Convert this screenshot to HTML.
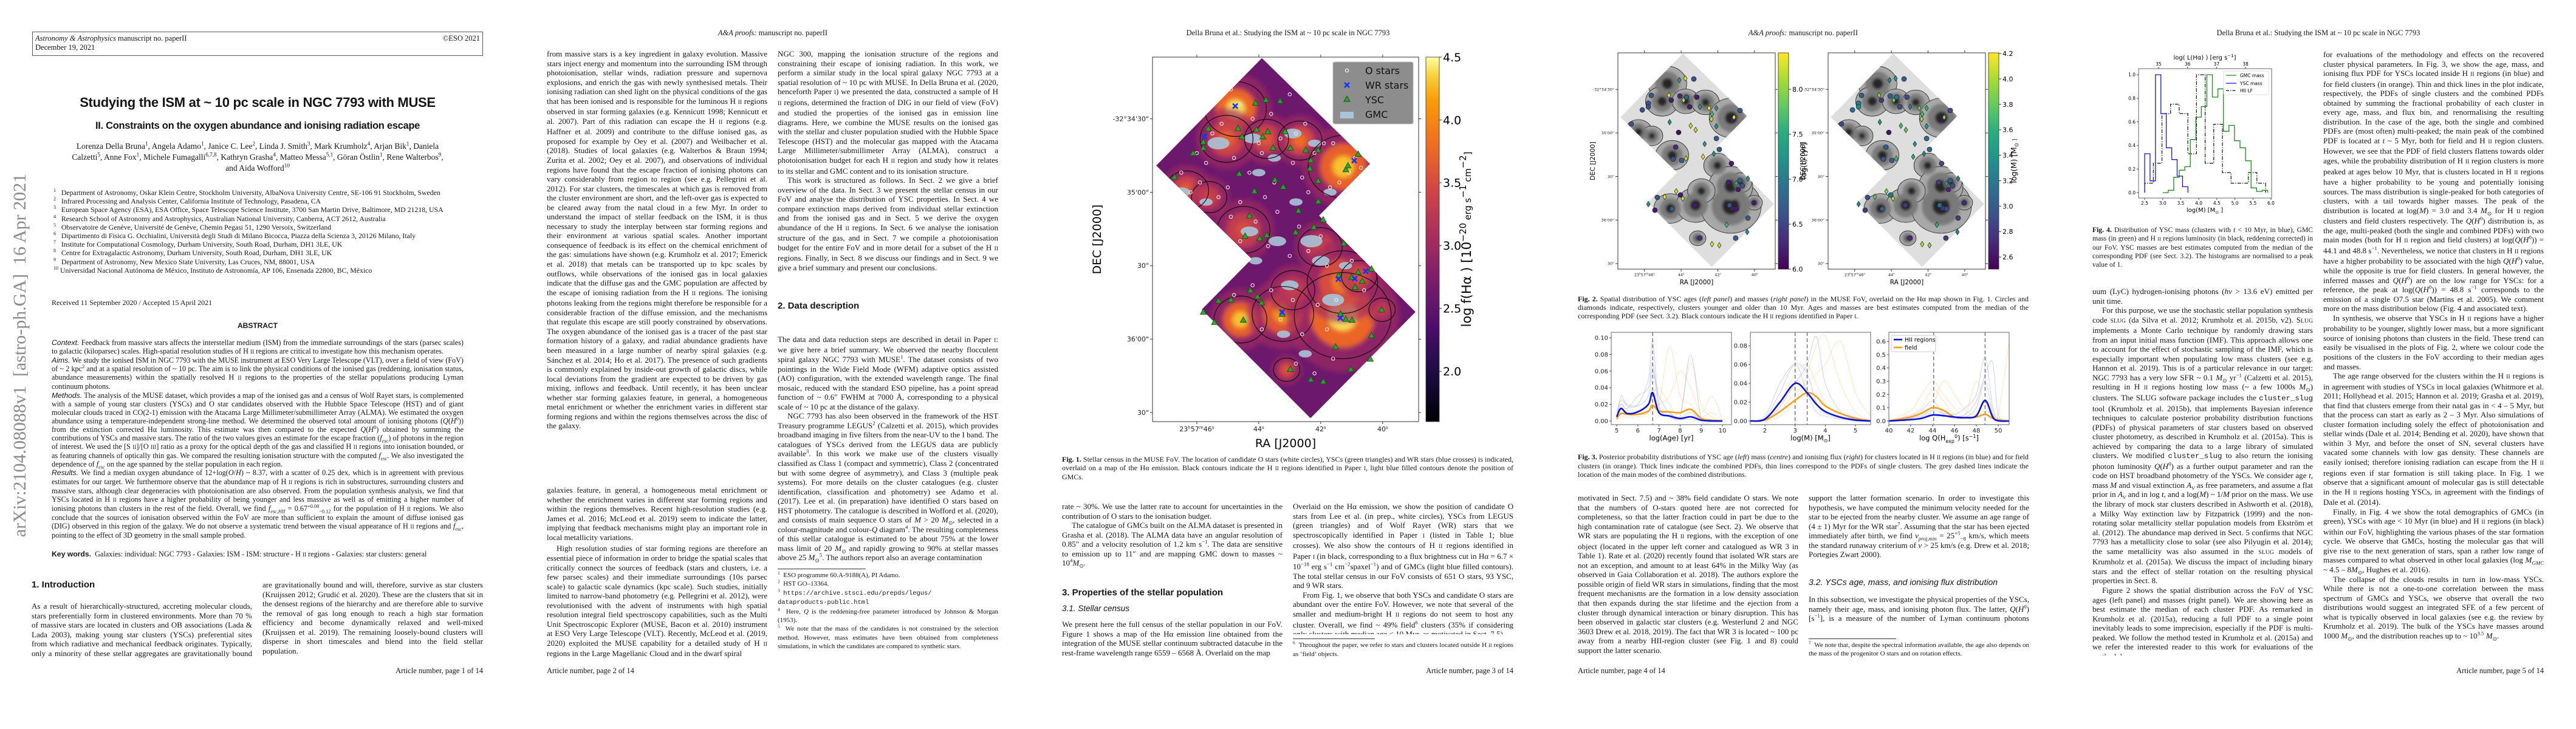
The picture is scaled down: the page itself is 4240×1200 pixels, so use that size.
<!DOCTYPE html>
<html><head><meta charset="utf-8">
<style>
body{margin:0;width:4240px;height:1200px;position:relative;background:#fff;overflow:hidden;font-family:"Liberation Serif",serif;color:#161616}
#charts{position:absolute;left:0;top:0}
.page{position:absolute;top:0;width:848px;height:1200px}
.hdr{position:absolute;left:0;width:848px;top:46px;text-align:center;font-size:12.5px;line-height:16px}
.col{position:absolute;width:363px;font-size:13px;line-height:15.55px;text-align:justify;overflow:hidden;hyphens:auto}
.col p{margin:0}
.col p+p{text-indent:16px}
.end{display:flex;flex-direction:column;justify-content:flex-end}
sup,sub{line-height:0;font-size:.68em}
.sec{position:absolute;font-family:"Liberation Sans",sans-serif;font-weight:bold;font-size:15px;line-height:18px}
.sub{position:absolute;font-family:"Liberation Sans",sans-serif;font-style:italic;font-size:13.5px;line-height:18px}
.foot{position:absolute;top:1096px;font-size:12.5px;line-height:16px}
.cap{position:absolute;font-size:12px;line-height:14.2px;text-align:justify}
.fn{position:absolute;width:363px;font-size:11px;line-height:14.4px;text-align:justify}
.rule{position:absolute;height:1px;background:#333}
.sc{font-size:.75em}
.mono{font-family:"Liberation Mono",monospace;font-size:.95em}
</style></head>
<body>
<svg id="charts" width="4240" height="1200" viewBox="0 0 4240 1200" xmlns="http://www.w3.org/2000/svg"></svg>

<!-- PAGE 1 -->
<div class="page" style="left:0">
  <div style="position:absolute;left:-292px;top:567px;width:650px;height:36px;transform:rotate(-90deg);transform-origin:center;font-size:30px;line-height:36px;color:#8a8a8a;white-space:nowrap;text-align:center">arXiv:2104.08088v1&nbsp; [astro-ph.GA]&nbsp; 16 Apr 2021</div>
  <div style="position:absolute;left:53px;top:52px;width:740px;height:38px;border:1px solid #555;font-size:12.5px;line-height:15px">
    <div style="position:absolute;left:4px;top:3px"><i>Astronomy &amp; Astrophysics</i> manuscript no. paperII<br>December 19, 2021</div>
    <div style="position:absolute;right:4px;top:3px">©ESO 2021</div>
  </div>
  <div style="position:absolute;left:0;width:848px;top:156px;text-align:center;font-family:'Liberation Sans',sans-serif;font-weight:bold;font-size:22px;letter-spacing:-0.3px">Studying the ISM at ~ 10 pc scale in NGC 7793 with MUSE</div>
  <div style="position:absolute;left:0;width:848px;top:198px;text-align:center;font-family:'Liberation Sans',sans-serif;font-weight:bold;font-size:16.5px;letter-spacing:-0.3px">II. Constraints on the oxygen abundance and ionising radiation escape</div>
  <div style="position:absolute;left:70px;width:708px;top:232px;text-align:center;font-size:13.5px;line-height:18px">Lorenza Della Bruna<sup>1</sup>, Angela Adamo<sup>1</sup>, Janice C. Lee<sup>2</sup>, Linda J. Smith<sup>3</sup>, Mark Krumholz<sup>4</sup>, Arjan Bik<sup>1</sup>, Daniela<br>Calzetti<sup>5</sup>, Anne Fox<sup>1</sup>, Michele Fumagalli<sup>6,7,8</sup>, Kathryn Grasha<sup>4</sup>, Matteo Messa<sup>5,1</sup>, Göran Östlin<sup>1</sup>, Rene Walterbos<sup>9</sup>,<br>and Aida Wofford<sup>10</sup></div>
  <div style="position:absolute;left:88px;width:680px;top:310px;font-size:11.8px;line-height:14.2px">
    <div style="padding-left:15px;text-indent:-15px"><sup>1</sup>&nbsp;&nbsp; Department of Astronomy, Oskar Klein Centre, Stockholm University, AlbaNova University Centre, SE-106 91 Stockholm, Sweden</div>
    <div style="padding-left:15px;text-indent:-15px"><sup>2</sup>&nbsp;&nbsp; Infrared Processing and Analysis Center, California Institute of Technology, Pasadena, CA</div>
    <div style="padding-left:15px;text-indent:-15px"><sup>3</sup>&nbsp;&nbsp; European Space Agency (ESA), ESA Office, Space Telescope Science Institute, 3700 San Martin Drive, Baltimore, MD 21218, USA</div>
    <div><sup>4</sup>&nbsp;&nbsp; Research School of Astronomy and Astrophysics, Australian National University, Canberra, ACT 2612, Australia</div>
    <div><sup>5</sup>&nbsp;&nbsp; Observatoire de Genève, Université de Genève, Chemin Pegasi 51, 1290 Versoix, Switzerland</div>
    <div><sup>6</sup>&nbsp;&nbsp; Dipartimento di Fisica G. Occhialini, Università degli Studi di Milano Bicocca, Piazza della Scienza 3, 20126 Milano, Italy</div>
    <div><sup>7</sup>&nbsp;&nbsp; Institute for Computational Cosmology, Durham University, South Road, Durham, DH1 3LE, UK</div>
    <div><sup>8</sup>&nbsp;&nbsp; Centre for Extragalactic Astronomy, Durham University, South Road, Durham, DH1 3LE, UK</div>
    <div><sup>9</sup>&nbsp;&nbsp; Department of Astronomy, New Mexico State University, Las Cruces, NM, 88001, USA</div>
    <div><sup>10</sup> Universidad Nacional Autónoma de México, Instituto de Astronomía, AP 106, Ensenada 22800, BC, México</div>
  </div>
  <div style="position:absolute;left:85px;top:491px;font-size:12px">Received 11 September 2020 / Accepted 15 April 2021</div>
  <div style="position:absolute;left:0;width:848px;top:529px;text-align:center;font-family:'Liberation Sans',sans-serif;font-weight:bold;font-size:12px">ABSTRACT</div>
  <div style="position:absolute;left:85px;width:678px;top:557px;font-size:12.2px;line-height:14.1px;text-align:justify;height:340px;overflow:hidden">
    <div><i style="font-family:'Liberation Sans'">Context.</i> Feedback from massive stars affects the interstellar medium (ISM) from the immediate surroundings of the stars (parsec scales) to galactic (kiloparsec) scales. High-spatial resolution studies of H <span class="sc">II</span> regions are critical to investigate how this mechanism operates.</div>
    <div><i style="font-family:'Liberation Sans'">Aims.</i> We study the ionised ISM in NGC 7793 with the MUSE instrument at ESO Very Large Telescope (VLT), over a field of view (FoV) of ~ 2 kpc<sup>2</sup> and at a spatial resolution of ~ 10 pc. The aim is to link the physical conditions of the ionised gas (reddening, ionisation status, abundance measurements) within the spatially resolved H <span class="sc">II</span> regions to the properties of the stellar populations producing Lyman continuum photons.</div>
    <div><i style="font-family:'Liberation Sans'">Methods.</i> The analysis of the MUSE dataset, which provides a map of the ionised gas and a census of Wolf Rayet stars, is complemented with a sample of young star clusters (YSCs) and O star candidates observed with the Hubble Space Telescope (HST) and of giant molecular clouds traced in CO(2-1) emission with the Atacama Large Millimeter/submillimeter Array (ALMA). We estimated the oxygen abundance using a temperature-independent strong-line method. We determined the observed total amount of ionising photons (<i>Q</i>(<i>H</i><sup>0</sup>)) from the extinction corrected Hα luminosity. This estimate was then compared to the expected <i>Q</i>(<i>H</i><sup>0</sup>) obtained by summing the contributions of YSCs and massive stars. The ratio of the two values gives an estimate for the escape fraction (<i>f<sub>esc</sub></i>) of photons in the region of interest. We used the [S <span class="sc">II</span>]/[O <span class="sc">III</span>] ratio as a proxy for the optical depth of the gas and classified H <span class="sc">II</span> regions into ionisation bounded, or as featuring channels of optically thin gas. We compared the resulting ionisation structure with the computed <i>f<sub>esc</sub></i>. We also investigated the dependence of <i>f<sub>esc</sub></i> on the age spanned by the stellar population in each region.</div>
    <div><i style="font-family:'Liberation Sans'">Results.</i> We find a median oxygen abundance of 12+log(<i>O</i>/<i>H</i>) ~ 8.37, with a scatter of 0.25 dex, which is in agreement with previous estimates for our target. We furthermore observe that the abundance map of H <span class="sc">II</span> regions is rich in substructures, surrounding clusters and massive stars, although clear degeneracies with photoionisation are also observed. From the population synthesis analysis, we find that YSCs located in H <span class="sc">II</span> regions have a higher probability of being younger and less massive as well as of emitting a higher number of ionising photons than clusters in the rest of the field. Overall, we find <i>f<sub>esc,HII</sub></i> = 0.67<sup>+0.08</sup><sub>−0.12</sub> for the population of H <span class="sc">II</span> regions. We also conclude that the sources of ionisation observed within the FoV are more than sufficient to explain the amount of diffuse ionised gas (DIG) observed in this region of the galaxy. We do not observe a systematic trend between the visual appearance of H <span class="sc">II</span> regions and <i>f<sub>esc</sub></i>, pointing to the effect of 3D geometry in the small sample probed.</div>
  </div>
  <div style="position:absolute;left:85px;top:905px;font-size:12.2px"><b style="font-family:'Liberation Sans'">Key words.</b>&nbsp; Galaxies: individual: NGC 7793 - Galaxies: ISM - ISM: structure - H <span class="sc">II</span> regions - Galaxies: star clusters: general</div>
  <div class="sec" style="left:52px;top:954px">1. Introduction</div>
  <div class="col" style="left:52px;top:990px;height:94px"><p>As a result of hierarchically-structured, accreting molecular clouds, stars preferentially form in clustered environments. More than 70 % of massive stars are located in clusters and OB associations (Lada &amp; Lada 2003), making young star clusters (YSCs) preferential sites from which radiative and mechanical feedback originates. Typically, only a minority of these stellar aggregates are gravitationally bound and will survive.</p></div>
  <div class="col" style="left:432px;top:955px;height:125px"><p>are gravitationally bound and will, therefore, survive as star clusters (Kruijssen 2012; Grudić et al. 2020). These are the clusters that sit in the densest regions of the hierarchy and are therefore able to survive the removal of gas long enough to reach a high star formation efficiency and become dynamically relaxed and well-mixed (Kruijssen et al. 2019). The remaining loosely-bound clusters will disperse in short timescales and blend into the field stellar population.</p></div>
  <div class="foot" style="right:53px">Article number, page 1 of 14</div>
</div>

<!-- PAGE 2 -->
<div class="page" style="left:848px">
  <div class="hdr"><i>A&amp;A proofs:</i> manuscript no. paperII</div>
  <div class="col" style="left:52px;top:81px;height:700px"><p>from massive stars is a key ingredient in galaxy evolution. Massive stars inject energy and momentum into the surrounding ISM through photoionisation, stellar winds, radiation pressure and supernova explosions, and enrich the gas with newly synthesised metals. Their ionising radiation can shed light on the physical conditions of the gas that has been ionised and is responsible for the luminous H <span class="sc">II</span> regions observed in star forming galaxies (e.g. Kennicutt 1998; Kennicutt et al. 2007). Part of this radiation can escape the H <span class="sc">II</span> regions (e.g. Haffner et al. 2009) and contribute to the diffuse ionised gas, as proposed for example by Oey et al. (2007) and Weilbacher et al. (2018). Studies of local galaxies (e.g. Walterbos &amp; Braun 1994; Zurita et al. 2002; Oey et al. 2007), and observations of individual regions have found that the escape fraction of ionising photons can vary considerably from region to region (see e.g. Pellegrini et al. 2012). For star clusters, the timescales at which gas is removed from the cluster environment are short, and the left-over gas is expected to be cleared away from the natal cloud in a few Myr. In order to understand the impact of stellar feedback on the ISM, it is thus necessary to study the interplay between star forming regions and their environment at various spatial scales. Another important consequence of feedback is its effect on the chemical enrichment of the gas: simulations have shown (e.g. Krumholz et al. 2017; Emerick et al. 2018) that metals can be transported up to kpc scales by outflows, while observations of the ionised gas in local galaxies indicate that the diffuse gas and the GMC population are affected by the escape of ionising radiation from the H <span class="sc">II</span> regions. The ionising photons leaking from the regions might therefore be responsible for a considerable fraction of the diffuse emission, and the mechanisms that regulate this escape are still poorly constrained by observations. The oxygen abundance of the ionised gas is a tracer of the past star formation history of a galaxy, and radial abundance gradients have been measured in a large number of nearby spiral galaxies (e.g. Sánchez et al. 2014; Ho et al. 2017). The presence of such gradients is commonly explained by inside-out growth of galactic discs, while local deviations from the gradient are expected to be driven by gas mixing, inflows and feedback. Until recently, it has been unclear whether star forming galaxies feature, in general, a homogeneous metal enrichment or whether the enrichment varies in different star forming regions and within the regions themselves across the disc of the galaxy.</p></div>
  <div class="col end" style="left:52px;top:781px;height:303px"><div>
    <p>galaxies feature, in general, a homogeneous metal enrichment or whether the enrichment varies in different star forming regions and within the regions themselves. Recent high-resolution studies (e.g. James et al. 2016; McLeod et al. 2019) seem to indicate the latter, implying that feedback mechanisms might play an important role in local metallicity variations.</p>
    <p style="margin-top:3px">High resolution studies of star forming regions are therefore an essential piece of information in order to bridge the spatial scales that critically connect the sources of feedback (stars and clusters, i.e. a few parsec scales) and their immediate surroundings (10s parsec scale) to galactic scale dynamics (kpc scale). Such studies, initially limited to narrow-band photometry (e.g. Pellegrini et al. 2012), were revolutionised with the advent of instruments with high spatial resolution integral field spectroscopy capabilities, such as the Multi Unit Spectroscopic Explorer (MUSE, Bacon et al. 2010) instrument at ESO Very Large Telescope (VLT). Recently, McLeod et al. (2019, 2020) exploited the MUSE capability for a detailed study of H <span class="sc">II</span> regions in the Large Magellanic Cloud and in the dwarf spiral</p></div></div>
  <div class="col" style="left:432px;top:81px;height:376px"><p>NGC 300, mapping the ionisation structure of the regions and constraining their escape of ionising radiation. In this work, we perform a similar study in the local spiral galaxy NGC 7793 at a spatial resolution of ~ 10 pc with MUSE. In Della Bruna et al. (2020, henceforth Paper <span class="sc">I</span>) we presented the data, constructed a sample of H <span class="sc">II</span> regions, determined the fraction of DIG in our field of view (FoV) and studied the properties of the ionised gas in emission line diagrams. Here, we combine the MUSE results on the ionised gas with the stellar and cluster population studied with the Hubble Space Telescope (HST) and the molecular gas mapped with the Atacama Large Millimeter/submillimeter Array (ALMA), construct a photoionisation budget for each H <span class="sc">II</span> region and study how it relates to its stellar and GMC content and to its ionisation structure.</p><p>This work is structured as follows. In Sect. 2 we give a brief overview of the data. In Sect. 3 we present the stellar census in our FoV and analyse the distribution of YSC properties. In Sect. 4 we compare extinction maps derived from individual stellar extinction and from the ionised gas and in Sect. 5 we derive the oxygen abundance of the H <span class="sc">II</span> regions. In Sect. 6 we analyse the ionisation structure of the gas, and in Sect. 7 we compile a photoionisation budget for the entire FoV and in more detail for a subset of the H <span class="sc">II</span> regions. Finally, in Sect. 8 we discuss our findings and in Sect. 9 we give a brief summary and present our conclusions.</p></div>
  <div class="sec" style="left:432px;top:495px">2. Data description</div>
  <div class="col end" style="left:432px;top:522px;height:404px"><div><p>The data and data reduction steps are described in detail in Paper <span class="sc">I</span>: we give here a brief summary. We observed the nearby flocculent spiral galaxy NGC 7793 with MUSE<sup>1</sup>. The dataset consists of two pointings in the Wide Field Mode (WFM) adaptive optics assisted (AO) configuration, with the extended wavelength range. The final mosaic, reduced with the standard ESO pipeline, has a point spread function of ~ 0.6″ FWHM at 7000 Å, corresponding to a physical scale of ~ 10 pc at the distance of the galaxy.</p><p>NGC 7793 has also been observed in the framework of the HST Treasury programme LEGUS<sup>2</sup> (Calzetti et al. 2015), which provides broadband imaging in five filters from the near-UV to the I band. The catalogues of YSCs derived from the LEGUS data are publicly available<sup>3</sup>. In this work we make use of the clusters visually classified as Class 1 (compact and symmetric), Class 2 (concentrated but with some degree of asymmetry), and Class 3 (multiple peak systems). For more details on the cluster catalogues (e.g. cluster identification, classification and photometry) see Adamo et al. (2017). Lee et al. (in preparation) have identified O stars based on HST photometry. The catalogue is described in Wofford et al. (2020), and consists of main sequence O stars of <i>M</i> &gt; 20 <i>M</i><sub>⊙</sub>, selected in a colour-magnitude and colour-<i>Q</i> diagram<sup>4</sup>. The resulting completeness of this stellar catalogue is estimated to be about 75% at the lower mass limit of 20 <i>M</i><sub>⊙</sub> and rapidly growing to 90% at stellar masses above 25 <i>M</i><sub>⊙</sub><sup>5</sup>. The authors report also an average contamination</p></div></div>
  <div class="rule" style="left:432px;top:936px;width:145px"></div>
  <div class="fn" style="left:432px;top:940px">
    <div><sup>1</sup>&nbsp; ESO programme 60.A-9188(A), PI Adamo.</div>
    <div><sup>2</sup>&nbsp; HST GO–13364.</div>
    <div><sup>3</sup>&nbsp; <span class="mono">https://archive.stsci.edu/prepds/legus/<br>dataproducts-public.html</span></div>
    <div><sup>4</sup>&nbsp; Here, <i>Q</i> is the reddening-free parameter introduced by Johnson &amp; Morgan (1953).</div>
    <div><sup>5</sup>&nbsp; We note that the mass of the candidates is not constrained by the selection method. However, mass estimates have been obtained from completeness simulations, in which the candidates are compared to synthetic stars.</div>
  </div>
  <div class="foot" style="left:52px">Article number, page 2 of 14</div>
</div>

<!-- PAGE 3 -->
<div class="page" style="left:1696px">
  <div class="hdr">Della Bruna et al.: Studying the ISM at ~ 10 pc scale in NGC 7793</div>
  <div class="cap" style="left:52px;width:743px;top:749px"><b>Fig. 1.</b> Stellar census in the MUSE FoV. The location of candidate O stars (white circles), YSCs (green triangles) and WR stars (blue crosses) is indicated, overlaid on a map of the Hα emission. Black contours indicate the H <span class="sc">II</span> regions identified in Paper <span class="sc">I</span>, light blue filled contours denote the position of GMCs.</div>
  <div class="col" style="left:52px;top:826px;height:109px"><p>rate ~ 30%. We use the latter rate to account for uncertainties in the contribution of O stars to the ionisation budget.</p><p>The catalogue of GMCs built on the ALMA dataset is presented in Grasha et al. (2018). The ALMA data have an angular resolution of 0.85″ and a velocity resolution of 1.2 km s<sup>−1</sup>. The data are sensitive to emission up to 11″ and are mapping GMC down to masses ~ 10<sup>4</sup><i>M</i><sub>⊙</sub>.</p></div>
  <div class="sec" style="left:52px;top:967px">3. Properties of the stellar population</div>
  <div class="sub" style="left:52px;top:993px">3.1. Stellar census</div>
  <div class="col" style="left:52px;top:1020px;height:63px"><p>We present here the full census of the stellar population in our FoV. Figure 1 shows a map of the Hα emission line obtained from the integration of the MUSE stellar continuum subtracted datacube in the rest-frame wavelength range 6559 – 6568 Å. Overlaid on the map</p></div>
  <div class="col" style="left:432px;top:826px;height:218px"><p>Overlaid on the Hα emission, we show the position of candidate O stars from Lee et al. (in prep., white circles), YSCs from LEGUS (green triangles) and of Wolf Rayet (WR) stars that we spectroscopically identified in Paper <span class="sc">I</span> (listed in Table 1; blue crosses). We also show the contours of H <span class="sc">II</span> regions identified in Paper <span class="sc">I</span> (in black, corresponding to a flux brightness cut in Hα = 6.7 × 10<sup>−18</sup> erg s<sup>−1</sup> cm<sup>−2</sup>spaxel<sup>−1</sup>) and of GMCs (light blue filled contours). The total stellar census in our FoV consists of 651 O stars, 93 YSC, and 9 WR stars.</p><p>From Fig. 1, we observe that both YSCs and candidate O stars are abundant over the entire FoV. However, we note that several of the smaller and medium-bright H <span class="sc">II</span> regions do not seem to host any cluster. Overall, we find ~ 49% field<sup>6</sup> clusters (35% if considering only clusters with median age &lt; 10 Myr, as motivated in Sect. 7.5)</p></div>
  <div class="rule" style="left:432px;top:1051px;width:135px"></div>
  <div class="fn" style="left:432px;top:1055px"><sup>6</sup>&nbsp; Throughout the paper, we refer to stars and clusters located outside H <span class="sc">II</span> regions as ‘field’ objects.</div>
  <div class="foot" style="right:53px">Article number, page 3 of 14</div>
</div>

<!-- PAGE 4 -->
<div class="page" style="left:2544px">
  <div class="hdr"><i>A&amp;A proofs:</i> manuscript no. paperII</div>
  <div class="cap" style="left:53px;width:742px;top:485px"><b>Fig. 2.</b> Spatial distribution of YSC ages (<i>left panel</i>) and masses (<i>right panel</i>) in the MUSE FoV, overlaid on the Hα map shown in Fig. 1. Circles and diamonds indicate, respectively, clusters younger and older than 10 Myr. Ages and masses are best estimates computed from the median of the corresponding PDF (see Sect. 3.2). Black contours indicate the H <span class="sc">II</span> regions identified in Paper <span class="sc">I</span>.</div>
  <div class="cap" style="left:53px;width:742px;top:745px"><b>Fig. 3.</b> Posterior probability distributions of YSC age (<i>left</i>) mass (<i>centre</i>) and ionising flux (<i>right</i>) for clusters located in H <span class="sc">II</span> regions (in blue) and for field clusters (in orange). Thick lines indicate the combined PDFs, thin lines correspond to the PDFs of single clusters. The grey dashed lines indicate the location of the main modes of the combined distributions.</div>
  <div class="col" style="left:53px;top:812px;height:266px"><p>motivated in Sect. 7.5) and ~ 38% field candidate O stars. We note that the numbers of O-stars quoted here are not corrected for completeness, so that the latter fraction could in part be due to the high contamination rate of catalogue (see Sect. 2). We observe that WR stars are populating the H <span class="sc">II</span> regions, with the exception of one object (located in the upper left corner and catalogued as WR 3 in Table 1). Rate et al. (2020) recently found that isolated WR stars are not an exception, and amount to at least 64% in the Milky Way (as observed in Gaia Collaboration et al. 2018). The authors explore the possible origin of field WR stars in simulations, finding that the most frequent mechanisms are the formation in a low density association that then expands during the star lifetime and the ejection from a cluster through dynamical interaction or binary disruption. This has been observed in galactic star clusters (e.g. Westerlund 2 and NGC 3603 Drew et al. 2018, 2019). The fact that WR 3 is located ~ 100 pc away from a nearby HII-region cluster (see Fig. 1 and 8) could support the latter scenario.</p></div>
  <div class="col" style="left:433px;top:812px;height:110px"><p>support the latter formation scenario. In order to investigate this hypothesis, we have computed the minimum velocity needed for the star to be ejected from the nearby cluster. We assume an age range of (4 ± 1) Myr for the WR star<sup>7</sup>. Assuming that the star has been ejected immediately after birth, we find <i>v<sub>proj,min</sub></i> = 25<sup>+5</sup><sub>−8</sub> km/s, which meets the standard runaway criterium of <i>v</i> &gt; 25 km/s (e.g. Drew et al. 2018; Portegies Zwart 2000).</p></div>
  <div class="sub" style="left:433px;top:949px;font-size:14px">3.2. YSCs age, mass, and ionising flux distribution</div>
  <div class="col" style="left:433px;top:979px;height:47px"><p>In this subsection, we investigate the physical properties of the YSCs, namely their age, mass, and ionising photon flux. The latter, <i>Q</i>(<i>H</i><sup>0</sup>) [s<sup>−1</sup>], is a measure of the number of Lyman continuum photons emitted</p></div>
  <div class="rule" style="left:433px;top:1051px;width:144px"></div>
  <div class="fn" style="left:433px;top:1055px"><sup>7</sup>&nbsp; We note that, despite the spectral information available, the age also depends on the mass of the progenitor O stars and on rotation effects.</div>
  <div class="foot" style="left:53px">Article number, page 4 of 14</div>
</div>

<!-- PAGE 5 -->
<div class="page" style="left:3392px">
  <div class="hdr">Della Bruna et al.: Studying the ISM at ~ 10 pc scale in NGC 7793</div>
  <div class="cap" style="left:52px;width:363px;top:372px;font-size:11.6px;line-height:14.3px"><b>Fig. 4.</b> Distribution of YSC mass (clusters with <i>t</i> &lt; 10 Myr, in blue), GMC mass (in green) and H <span class="sc">II</span> regions luminosity (in black, reddening corrected) in our FoV. YSC masses are best estimates computed from the median of the corresponding PDF (see Sect. 3.2). The histograms are normalised to a peak value of 1.</div>
  <div class="col" style="left:52px;top:472px;height:607px"><p>uum (LyC) hydrogen-ionising photons (<i>hν</i> &gt; 13.6 eV) emitted per unit time.</p><p>For this purpose, we use the stochastic stellar population synthesis code <span class="sc">SLUG</span> (da Silva et al. 2012; Krumholz et al. 2015b, v2). S<span class="sc">LUG</span> implements a Monte Carlo technique by randomly drawing stars from an input initial mass function (IMF). This approach allows one to account for the effect of stochastic sampling of the IMF, which is especially important when populating low mass clusters (see e.g. Hannon et al. 2019). This is of a particular relevance in our target: NGC 7793 has a very low SFR ~ 0.1 <i>M</i><sub>⊙</sub> yr<sup>−1</sup> (Calzetti et al. 2015), resulting in H <span class="sc">II</span> regions hosting low mass (~ a few 1000s <i>M</i><sub>⊙</sub>) clusters. The SLUG software package includes the <span class="mono">cluster_slug</span> tool (Krumholz et al. 2015b), that implements Bayesian inference techniques to calculate posterior probability distribution functions (PDFs) of physical parameters of star clusters based on observed cluster photometry, as described in Krumholz et al. (2015a). This is achieved by comparing the data to a large library of simulated clusters. We modified <span class="mono">cluster_slug</span> to also return the ionising photon luminosity <i>Q</i>(<i>H</i><sup>0</sup>) as a further output parameter and ran the code on HST broadband photometry of the YSCs. We consider age <i>t</i>, mass <i>M</i> and visual extinction <i>A<sub>V</sub></i> as free parameters, and assume a flat prior in <i>A<sub>V</sub></i> and in log <i>t</i>, and a log(<i>M</i>) ~ 1/<i>M</i> prior on the mass. We use the library of mock star clusters described in Ashworth et al. (2018), a Milky Way extinction law by Fitzpatrick (1999) and the non-rotating solar metallicity stellar population models from Ekström et al. (2012). The abundance map derived in Sect. 5 confirms that NGC 7793 has a metallicity close to solar (see also Pilyugin et al. 2014); the same metallicity was also assumed in the <span class="sc">SLUG</span> models of Krumholz et al. (2015a). We discuss the impact of including binary stars and the effect of stellar rotation on the resulting physical properties in Sect. 8.</p><p>Figure 2 shows the spatial distribution across the FoV of YSC ages (left panel) and masses (right panel). We are showing here as best estimate the median of each cluster PDF. As remarked in Krumholz et al. (2015a), reducing a full PDF to a single point inevitably leads to some imprecision, especially if the PDF is multi-peaked. We follow the method tested in Krumholz et al. (2015a) and we refer the interested reader to this work for evaluations of the methodology.</p></div>
  <div class="col" style="left:432px;top:82px;height:997px"><p>for evaluations of the methodology and effects on the recovered cluster physical parameters. In Fig. 3, we show the age, mass, and ionising flux PDF for YSCs located inside H <span class="sc">II</span> regions (in blue) and for field clusters (in orange). Thin and thick lines in the plot indicate, respectively, the PDFs of single clusters and the combined PDFs obtained by summing the fractional probability of each cluster in every age, mass, and flux bin, and renormalising the resulting distribution. In the case of the age, both the single and combined PDFs are (most often) multi-peaked; the main peak of the combined PDF is located at <i>t</i> ~ 5 Myr, both for field and H <span class="sc">II</span> region clusters. However, we see that the PDF of field clusters flattens towards older ages, while the probability distribution of H <span class="sc">II</span> region clusters is more peaked at ages below 10 Myr, that is clusters located in H <span class="sc">II</span> regions have a higher probability to be young and potentially ionising sources. The mass distribution is single-peaked for both categories of clusters, with a tail towards higher masses. The peak of the distribution is located at log(<i>M</i>) = 3.0 and 3.4 <i>M</i><sub>⊙</sub> for H <span class="sc">II</span> region clusters and field clusters respectively. The <i>Q</i>(<i>H</i><sup>0</sup>) distribution is, as the age, multi-peaked (both the single and combined PDFs) with two main modes (both for H <span class="sc">II</span> region and field clusters) at log(<i>Q</i>(<i>H</i><sup>0</sup>)) = 44.1 and 48.8 s<sup>−1</sup>. Nevertheless, we notice that clusters in H <span class="sc">II</span> regions have a higher probability to be associated with the high <i>Q</i>(<i>H</i><sup>0</sup>) value, while the opposite is true for field clusters. In general however, the inferred masses and <i>Q</i>(<i>H</i><sup>0</sup>) are on the low range for YSCs: for a reference, the peak at log(<i>Q</i>(<i>H</i><sup>0</sup>)) = 48.8 s<sup>−1</sup> corresponds to the emission of a single O7.5 star (Martins et al. 2005). We comment more on the mass distribution below (Fig. 4 and associated text).</p><p>In synthesis, we observe that YSCs in H <span class="sc">II</span> regions have a higher probability to be younger, slightly lower mass, but a more significant source of ionising photons than clusters in the field. These trend can easily be visualised in the plots of Fig. 2, where we colour code the positions of the clusters in the FoV according to their median ages and masses.</p><p>The age range observed for the clusters within the H <span class="sc">II</span> regions is in agreement with studies of YSCs in local galaxies (Whitmore et al. 2011; Hollyhead et al. 2015; Hannon et al. 2019; Grasha et al. 2019), that find that clusters emerge from their natal gas in &lt; 4 – 5 Myr, but that the process can start as early as 2 – 3 Myr. Also simulations of cluster formation including solely the effect of photoionisation and stellar winds (Dale et al. 2014; Bending et al. 2020), have shown that within 3 Myr, and before the onset of SN, several clusters have vacated some channels with low gas density. These channels are easily ionised; therefore ionising radiation can escape from the H <span class="sc">II</span> regions even if star formation is still taking place. In Fig. 1 we observe that a significant amount of molecular gas is still detectable in the H <span class="sc">II</span> regions hosting YSCs, in agreement with the findings of Dale et al. (2014).</p><p>Finally, in Fig. 4 we show the total demographics of GMCs (in green), YSCs with age &lt; 10 Myr (in blue) and H <span class="sc">II</span> regions (in black) within our FoV, highlighting the various phases of the star formation cycle. We observe that GMCs, hosting the molecular gas that will give rise to the next generation of stars, span a rather low range of masses compared to what observed in other local galaxies (log <i>M<sub>GMC</sub></i> ~ 4.5 – 8<i>M</i><sub>⊙</sub>, Hughes et al. 2016).</p><p>The collapse of the clouds results in turn in low-mass YSCs. While there is not a one-to-one correlation between the mass spectrum of GMCs and YSCs, we observe that overall the two distributions would suggest an integrated SFE of a few percent of what is typically observed in local galaxies (see e.g. the review by Krumholz et al. 2019). The bulk of the YSCs have masses around 1000 <i>M</i><sub>⊙</sub>, and the distribution reaches up to ~ 10<sup>3.5</sup> <i>M</i><sub>⊙</sub>.</p></div>
  <div class="foot" style="right:53px">Article number, page 5 of 14</div>
</div>

<script>
// ================= DATA =================
const clusterRA = [43.77,44.10,43.31,44.67,44.54,44.07,43.87,43.71,43.15,45.63,45.79,45.79,46.12,43.54,42.98,42.48,42.08,42.32,42.35,40.79,41.19,41.12,46.72,44.63,43.48,43.21,42.08,44.14,42.72,42.08,44.30,41.92,42.22,42.81,43.74,44.44,43.97,41.26,41.42,41.00,40.79,40.66,40.36,40.89,44.27,44.04,43.91,44.90,45.30,45.79,45.43,44.50,43.24,41.36,41.19,40.99,40.03,40.36,41.52,40.40,42.98,41.03,42.32,41.92];
const clusterDec = [22.4,23.6,22.8,34.0,37.4,34.5,37.4,35.3,35.3,34.1,39.5,42.0,44.1,42.0,42.0,42.9,42.9,47.0,50.4,44.5,50.8,49.2,53.8,52.5,55.0,57.9,55.4,59.6,67.6,63.8,69.7,71.3,74.3,76.4,77.6,78.0,78.9,81.0,94.0,94.8,92.7,96.4,91.4,98.9,100.2,102.7,105.2,104.0,104.4,109.0,113.2,112.3,109.8,109.8,111.9,112.3,108.1,118.6,123.2,128.2,132.4,132.4,136.6,137.4];
const clusterLogAge = [8.3,7.3,6.6,8.3,6.2,6.3,8.2,6.7,6.2,6.6,6.6,6.6,6.6,6.2,7.3,8.3,7.3,7.7,8.2,6.6,6.2,8.3,6.6,7.3,8.2,8.2,7.3,6.1,7.3,6.7,6.3,6.7,7.3,8.3,8.2,6.6,6.7,6.2,6.2,7.6,6.7,6.6,7.3,6.2,8.2,6.2,8.2,8.3,6.6,7.3,6.2,6.7,6.2,6.6,6.2,6.2,6.2,6.7,7.7,7.3,6.3,6.7,8.3,8.2];
const clusterLogMass = [3.4,3.3,3.0,3.9,2.8,3.0,3.8,3.1,2.9,3.0,3.2,3.3,3.1,2.9,3.3,3.8,3.6,3.7,4.0,2.9,2.6,3.9,2.9,3.4,3.7,3.8,3.5,2.6,3.4,3.1,3.0,3.1,3.3,3.6,3.7,3.0,3.0,2.9,2.8,3.5,3.0,2.9,3.3,2.7,3.9,3.2,4.0,3.8,2.9,3.3,2.8,3.0,2.8,3.1,2.8,2.9,2.7,2.8,3.6,3.3,2.7,2.8,4.0,3.9];
const oStarRA = [44.9,44.6,44.2,43.6,43.0,42.5,45.5,45.2,44.0,43.3,42.8,42.2,41.6,46.0,45.7,44.8,43.9,42.9,41.9,41.1,40.9,46.5,45.9,45.0,44.3,43.5,42.6,41.7,40.7,46.2,45.3,44.6,43.8,42.4,41.4,44.9,44.1,43.4,42.7,42.0,41.4,40.8,44.6,43.7,43.0,42.4,41.8,41.0,40.4,45.4,44.8,44.2,43.6,42.9,42.1,41.5,40.6,43.9,43.3,42.6,41.8,42.8,42.2,41.6];
const oStarDec = [18,24,30,28,20,32,36,32,40,38,36,44,40,44,48,46,44,48,40,52,46,52,56,58,52,56,54,58,50,60,62,64,62,60,56,70,72,68,74,78,72,84,80,82,86,84,90,88,86,96,102,98,100,104,106,104,100,116,112,118,116,130,134,128];
const wrRA = [44.76,45.75,40.92,41.43,40.90,43.25,40.55,41.37];
const wrDec = [24.8,37.2,47.1,95.5,95.3,109.0,92.3,111.4];
const gmcRA = [45.3,44.2,43.5,42.9,42.2,44.0,46.5,45.7,42.8,41.7,44.3,43.4,42.3,42.0,41.2,43.0,44.1,41.6,43.2,42.5];
const gmcDec = [40,38,46,36,40,52,60,64,64,60,76,80,80,88,90,98,88,104,118,126];
const gmcSize = [5,4,3,4,3,3,4,3,3,3,4,4,5,4,3,4,3,5,3,3];
const hiiRA = [44.75,45.04,43.75,42.67,41.27,46.33,44.49,42.02,44.59,43.22,41.29,41.30,40.76,43.10,40.02,45.6,42.9];
const hiiDec = [26,38.2,38.2,38.9,49.6,59.3,75.4,82.4,112,109.7,110.4,96.7,94.3,132.5,108,62,100];
const hiiRadius = [7,6,5,5,8,5,6,5,6,7,11,8,4,3,3,4,5];
const hiiLogFlux = [4.4,3.7,3.6,3.8,4.3,3.7,3.5,3.4,4.3,4.1,4.4,3.9,3.6,3.6,3.3,3.4,3.3];
const fovUpperRA = [43.90,40.41,43.82,47.31];
const fovUpperDec = [5.2,48.4,92.3,49.1];
const fovLowerRA = [42.45,38.94,42.33,45.84];
const fovLowerDec = [64.5,108.9,152.3,107.9];
const raTicks = [46,44,42,40];
const raTickLabels = [['23','h','57','m','46','s'],['44','s'],['42','s'],['40','s']];
const decTicks = [30,60,90,120,150];
const decTickLabels = ['-32°34\'30"','35\'00"','30"','36\'00"','30"'];
const fluxCbarTicks = [2.0,2.5,3.0,3.5,4.0,4.5];
const ageCbarTicks = [6.0,6.5,7.0,7.5,8.0];
const massCbarTicks = [2.6,2.8,3.0,3.2,3.4,3.6,3.8,4.0,4.2];

const ageGrid = [5,5.2,5.5,6,6.5,6.7,7,7.5,8,8.5,9,9.5,10];
const ageHii = [0.005,0.015,0.009,0.011,0.02,0.034,0.01,0.006,0.003,0.005,0.001,0,0];
const ageField = [0.003,0.009,0.008,0.008,0.012,0.019,0.012,0.011,0.010,0.014,0.003,0.001,0];
const ageThinHii = [[0.01,0.025,0.02,0.02,0.05,0.095,0.02,0.005,0.002,0.002,0,0,0],[0.005,0.02,0.015,0.03,0.04,0.07,0.015,0.01,0.005,0.08,0.002,0,0],[0.002,0.03,0.018,0.018,0.03,0.06,0.03,0.01,0.004,0.01,0.001,0,0]];
const ageThinField = [[0.002,0.01,0.01,0.01,0.02,0.04,0.02,0.09,0.03,0.02,0.005,0.01,0],[0.001,0.005,0.005,0.005,0.01,0.015,0.02,0.03,0.06,0.04,0.01,0.03,0.002],[0.001,0.02,0.01,0.008,0.01,0.03,0.04,0.02,0.01,0.07,0.02,0.005,0.001]];
const ageModes = [6.7];
const massGrid = [1.5,2,2.5,3,3.4,3.7,4,4.5,5,5.5];
const massHii = [0,0.002,0.02,0.040,0.03,0.018,0.01,0.004,0.001,0];
const massField = [0,0.001,0.01,0.022,0.030,0.026,0.016,0.008,0.003,0];
const massThinHii = [[0,0.005,0.04,0.061,0.05,0.02,0.008,0.003,0,0],[0,0.003,0.03,0.06,0.03,0.01,0.005,0.002,0,0],[0,0.001,0.015,0.04,0.06,0.09,0.04,0.01,0.002,0]];
const massThinField = [[0,0.002,0.02,0.05,0.06,0.04,0.02,0.005,0.001,0],[0,0,0.005,0.02,0.05,0.08,0.09,0.04,0.01,0],[0,0.001,0.01,0.03,0.04,0.05,0.06,0.085,0.03,0.005]];
const massModes = [3.0,3.4];
const qGrid = [40,42,43,44,45,46,47,48,48.8,49.5,50,51];
const qHii = [0,0.01,0.02,0.045,0.04,0.03,0.025,0.04,0.155,0.03,0.002,0];
const qField = [0,0.03,0.06,0.10,0.08,0.03,0.025,0.03,0.05,0.02,0.008,0];
const qThinHii = [[0,0.02,0.04,0.08,0.06,0.05,0.1,0.2,0.48,0.1,0.01,0],[0,0.01,0.03,0.06,0.04,0.03,0.05,0.15,0.35,0.44,0.05,0],[0,0.04,0.08,0.15,0.05,0.02,0.03,0.1,0.3,0.05,0.01,0]];
const qThinField = [[0,0.05,0.1,0.24,0.15,0.05,0.03,0.04,0.08,0.05,0.02,0],[0,0.08,0.2,0.3,0.2,0.1,0.05,0.3,0.1,0.05,0.05,0.6],[0,0.02,0.05,0.12,0.3,0.2,0.08,0.05,0.15,0.1,0.02,0]];
const qModes = [44.1,48.8];

const yscBinStart = [2.5,2.65,2.8,2.95,3.1,3.25,3.4,3.55];
const yscBinWidth = 0.15;
const yscNorm = [0.33,0.10,1.0,0.67,0.38,0.28,0.14,0.05];
const gmcHistStart = 3.0;
const gmcBinWidth = 0.153;
const gmcNorm = [0.0,0.02,0.13,0.19,0.22,0.45,0.64,0.73,1.0,0.81,0.88,0.52,0.57,0.44,0.38,0.27,0.04,0.01,0.02];
const hiiLFStart = 34.52;
const hiiLFWidth = 0.298;
const hiiLFNorm = [0.08,0.25,0.67,0.75,0.67,0.33,1.0,0.25,0.58,0.17,0.08,0.08,0.17,0.08];
const fig4XTicks = [2.5,3.0,3.5,4.0,4.5,5.0,5.5,6.0];
const fig4YTicks = [0.0,0.2,0.4,0.6,0.8,1.0];
const fig4TopTicks = [35,36,37,38];

// ================= HELPERS =================
const svg = document.getElementById('charts');
const NS = 'http://www.w3.org/2000/svg';
function mk(tag, attrs, parent){const e=document.createElementNS(NS,tag);for(const k in attrs)e.setAttribute(k,attrs[k]);(parent||svg).appendChild(e);return e;}
function txt(x,y,s,attrs,parent){const e=mk('text',Object.assign({x:x,y:y},attrs||{}),parent);e.textContent=s;return e;}
function lin(d0,d1,p0,p1){return v=>p0+(v-d0)/(d1-d0)*(p1-p0);}
const INF=[[0,0,0,4],[0.13,27,12,65],[0.25,74,12,107],[0.38,120,28,109],[0.5,165,44,96],[0.63,207,68,70],[0.75,237,105,37],[0.88,251,155,6],[0.95,247,209,61],[1,252,255,164]];
const VIR=[[0,68,1,84],[0.13,71,44,122],[0.25,59,82,139],[0.38,44,114,142],[0.5,33,145,140],[0.63,39,173,129],[0.75,94,201,98],[0.88,170,220,50],[1,253,231,37]];
function cmap(st,t){t=Math.max(0,Math.min(1,t));for(let i=1;i<st.length;i++){if(t<=st[i][0]){const a=st[i-1],b=st[i],f=(t-a[0])/(b[0]-a[0]);return 'rgb('+[1,2,3].map(j=>Math.round(a[j]+(b[j]-a[j])*f)).join(',')+')';}}return 'rgb(252,255,164)';}
function smooth(pts){let d='M'+pts[0][0].toFixed(1)+','+pts[0][1].toFixed(1);for(let i=0;i<pts.length-1;i++){const p0=pts[i-1]||pts[i],p1=pts[i],p2=pts[i+1],p3=pts[i+2]||p2;const c1=[p1[0]+(p2[0]-p0[0])/6,p1[1]+(p2[1]-p0[1])/6],c2=[p2[0]-(p3[0]-p1[0])/6,p2[1]-(p3[1]-p1[1])/6];d+=' C'+c1.map(v=>v.toFixed(1)).join(',')+' '+c2.map(v=>v.toFixed(1)).join(',')+' '+p2[0].toFixed(1)+','+p2[1].toFixed(1);}return d;}
const defs = mk('defs',{});
const fb4 = mk('filter',{id:'blur4',x:'-50%',y:'-50%',width:'200%',height:'200%'},defs); mk('feGaussianBlur',{stdDeviation:4},fb4);
const fb2 = mk('filter',{id:'blur2',x:'-50%',y:'-50%',width:'200%',height:'200%'},defs); mk('feGaussianBlur',{stdDeviation:2.2},fb2);
function gradient(id,stops){const g=mk('linearGradient',{id:id,x1:0,y1:1,x2:0,y2:0},defs);stops.forEach(s=>mk('stop',{offset:s[0],'stop-color':'rgb('+s[1]+','+s[2]+','+s[3]+')'},g));}
gradient('infGrad',INF); gradient('virGrad',VIR);
function fovClip(id,X,Y){const c=mk('clipPath',{id:id},defs);
  mk('polygon',{points:fovUpperRA.map((r,i)=>X(r)+','+Y(fovUpperDec[i])).join(' ')},c);
  mk('polygon',{points:fovLowerRA.map((r,i)=>X(r)+','+Y(fovLowerDec[i])).join(' ')},c);}
const FONT='DejaVu Sans, Liberation Sans, sans-serif';

function raDecAxes(g,X,Y,box,fs,lblfs,lblOff){
  const fr=mk('rect',{x:box[0],y:box[1],width:box[2]-box[0],height:box[3]-box[1],fill:'none',stroke:'#333','stroke-width':1},g);
  
  
  raTicks.forEach((v,i)=>{const x=X(v);
    mk('line',{x1:x,y1:box[3],x2:x,y2:box[3]+4,stroke:'#333'},g);
    mk('line',{x1:x,y1:box[1],x2:x,y2:box[1]-4,stroke:'#333'},g);
    const t=mk('text',{x:x,y:box[3]+fs+5,'font-size':fs,'text-anchor':'middle','font-family':FONT,fill:'#222'},g);
    const parts=raTickLabels[i];
    for(let k=0;k<parts.length;k++){const ts=mk('tspan',k%2?{'font-size':fs*0.65,dy:-fs*0.35}:{'font-size':fs,dy:k?fs*0.35:0},t);ts.textContent=parts[k];}
    
    
  });
  decTicks.forEach((v,i)=>{const y=Y(v);
    mk('line',{x1:box[0],y1:y,x2:box[0]-4,y2:y,stroke:'#333'},g);
    mk('line',{x1:box[2],y1:y,x2:box[2]+4,y2:y,stroke:'#333'},g);
    const t=txt(box[0]-6,y+fs*0.35,decTickLabels[i],{'font-size':fs,'text-anchor':'end','font-family':FONT,fill:'#222'},g);
    
    
  });
  const xl=txt((box[0]+box[2])/2,box[3]+lblOff[0],'RA [J2000]',{'font-size':lblfs,'text-anchor':'middle','font-family':FONT},g);
  
  
  const cy=(box[1]+box[3])/2, cx=box[0]-lblOff[1];
  const yl=txt(cx,cy,'DEC [J2000]',{'font-size':lblfs,'text-anchor':'middle','font-family':FONT,transform:'rotate(-90 '+cx+' '+cy+')'},g);
  
  
}
function colorbar(g,x0,x1,y0,y1,grad,vmin,vmax,ticks,dec,fs,label,lblx,lfs){
  const r=mk('rect',{x:x0,y:y0,width:x1-x0,height:y1-y0,fill:'url(#'+grad+')',stroke:'#333','stroke-width':0.8},g);
  
  
  const C=lin(vmin,vmax,y1,y0);
  ticks.forEach(v=>{const y=C(v);mk('line',{x1:x1,y1:y,x2:x1+4,y2:y,stroke:'#333'},g);
    const t=txt(x1+6,y+fs*0.36,v.toFixed(dec),{'font-size':fs,'font-family':FONT},g);
    
    });
  const cy=(y0+y1)/2;
  const l=mk('text',{x:lblx,y:cy,'font-size':lfs,'text-anchor':'middle','font-family':FONT,transform:'rotate(-90 '+lblx+' '+cy+')'},g);
  label.forEach(p=>{const ts=mk('tspan',p[1]?{'font-size':lfs*0.7,dy:p[1]}:{},l);ts.textContent=p[0];});
  
  
}

// ================= FIG 1 =================
(function(){
  const g=mk('g',{});
  
  
  const X=lin(47.43,38.84,1897,2335), Y=lin(4.8,153.7,94,694);
  const k=4.03;
  fovClip('clip1',X,Y);
  const m=mk('g',{'clip-path':'url(#clip1)'},g);
  mk('rect',{x:1897,y:94,width:438,height:600,fill:cmap(INF,(2.6-1.6)/2.9)},m);
  const blur=mk('g',{filter:'url(#blur4)'},m);
  hiiRA.forEach((r,i)=>{const cx=X(r),cy=Y(hiiDec[i]),rr=hiiRadius[i]*k;
    mk('circle',{cx:cx,cy:cy,r:rr*2.1,fill:cmap(INF,(3.0-1.6)/2.9),opacity:0.65},blur);
    mk('circle',{cx:cx,cy:cy,r:rr*1.2,fill:cmap(INF,((hiiLogFlux[i]+3.1)/2-1.6)/2.9)},blur);
    const core=mk('circle',{cx:cx,cy:cy,r:rr*0.55,fill:cmap(INF,(hiiLogFlux[i]-1.6)/2.9)},blur);
    
    });
  gmcRA.forEach((r,i)=>{const e=mk('ellipse',{cx:X(r),cy:Y(gmcDec[i]),rx:gmcSize[i]*k*0.9,ry:gmcSize[i]*k*0.5,fill:'#a9c4d8',opacity:0.9},m);
    
    });
  hiiRA.forEach((r,i)=>{const e=mk('ellipse',{cx:X(r),cy:Y(hiiDec[i]),rx:hiiRadius[i]*k*1.8,ry:hiiRadius[i]*k*1.6,fill:'none',stroke:'#111','stroke-width':1.2},m);
    
    });
  oStarRA.forEach((r,i)=>{const c=mk('circle',{cx:X(r),cy:Y(oStarDec[i]),r:2.7,fill:'none',stroke:'#fbe8f2','stroke-width':1.1},m);
    
    });
  clusterRA.forEach((r,i)=>{const x=X(r),y=Y(clusterDec[i]);
    const p=mk('path',{d:'M'+x+','+(y-5.5)+' L'+(x+5)+','+(y+3.5)+' L'+(x-5)+','+(y+3.5)+'Z',fill:'#2fa12f',stroke:'#0c5a0c','stroke-width':1,opacity:0.95},g);
    
    });
  wrRA.forEach((r,i)=>{const x=X(r),y=Y(wrDec[i]);
    const p=mk('path',{d:'M'+(x-4)+','+(y-4)+' L'+(x+4)+','+(y+4)+' M'+(x+4)+','+(y-4)+' L'+(x-4)+','+(y+4),stroke:'#1530ff','stroke-width':2.6},g);
    
    });
  raDecAxes(g,X,Y,[1897,94,2335,694],11,19,[42,85]);
  colorbar(g,2347,2369,94,694,'infGrad',1.6,4.5,fluxCbarTicks,1,19,[['log f(Hα ) [10',0],['−20',-8],[' erg s',8],['−1',-8],[' cm',8],['−2',-8],[']',8]],2421,21);
  const lg=mk('g',{},g);
  
  
  mk('rect',{x:2194,y:102,width:132,height:102,rx:3,fill:'#8d8d8d',stroke:'#bbb'},lg);
  mk('circle',{cx:2217,cy:116,r:2.7,fill:'none',stroke:'#fff','stroke-width':1.1},lg);
  mk('path',{d:'M2213,136 L2221,144 M2221,136 L2213,144',stroke:'#1530ff','stroke-width':2.6},lg);
  mk('path',{d:'M2217,158 L2222,167 L2212,167Z',fill:'#2fa12f',stroke:'#0c5a0c'},lg);
  mk('rect',{x:2206,y:184,width:22,height:11,fill:'#a9c4d8'},lg);
  [['O stars',122],['WR stars',146],['YSC',170],['GMC',194]].forEach(e=>{const t=txt(2247,e[1],e[0],{'font-size':16,'font-family':FONT,fill:'#111'},lg);
    
    });
})();

// ================= FIG 2 =================
function fig2Panel(x0,clipId,valueArr,vmin,vmax,cbTicks,cbDec,cbLabel,name){
  const g=mk('g',{});
  
  
  const X=lin(47.45,38.87,x0,x0+259), Y=lin(4.8,153.8,87,443);
  const k=2.39;
  fovClip(clipId,X,Y);
  const m=mk('g',{'clip-path':'url(#'+clipId+')'},g);
  mk('rect',{x:x0,y:87,width:259,height:356,fill:'#dedede'},m);
  hiiRA.forEach((r,i)=>{mk('ellipse',{cx:X(r),cy:Y(hiiDec[i]),rx:hiiRadius[i]*k*1.9,ry:hiiRadius[i]*k*1.7,fill:'#a8a8a8',stroke:'#222','stroke-width':0.8},m);});
  const bl=mk('g',{filter:'url(#blur2)'},m);
  hiiRA.forEach((r,i)=>{mk('circle',{cx:X(r),cy:Y(hiiDec[i]),r:hiiRadius[i]*k*1.2,fill:'#7a7a7a'},bl);
    const c=mk('circle',{cx:X(r),cy:Y(hiiDec[i]),r:hiiRadius[i]*k*0.55,fill:'#262626'},bl);
    
    });
  clusterRA.forEach((r,i)=>{const x=X(r),y=Y(clusterDec[i]);const col=cmap(VIR,(valueArr[i]-vmin)/(vmax-vmin));
    let e;
    if(clusterLogAge[i]<7){e=mk('circle',{cx:x,cy:y,r:4,fill:col,stroke:'#222','stroke-width':0.7},g);}
    else{e=mk('path',{d:'M'+x+','+(y-4.6)+' L'+(x+3)+','+y+' L'+x+','+(y+4.6)+' L'+(x-3)+','+y+'Z',fill:col,stroke:'#222','stroke-width':0.7},g);}
    
    });
  raDecAxes(g,X,Y,[x0,87,x0+259,443],6.5,10.5,[25,38]);
  colorbar(g,x0+264,x0+281,87,443,'virGrad',vmin,vmax,cbTicks,cbDec,11,cbLabel,x0+310,12.5);
}
fig2Panel(2663,'clip2a',clusterLogAge,6.0,8.405,ageCbarTicks,1,[['log(t) [yr]',0]],'figure-2-age-map');
fig2Panel(3009,'clip2b',clusterLogMass,2.505,4.205,massCbarTicks,1,[['log(M) [M',0],['⊙',3],[' ]',-3]],'figure-2-mass-map');

// ================= FIG 3 =================
function fig3Panel(box,xr,yr,xticks,yticks,ydec,grid,hii,field,thinH,thinF,modes,title,name,legend){
  const g=mk('g',{});
  
  
  const X=lin(xr[0],xr[1],box[0],box[2]), Y=lin(yr[0],yr[1],box[3],box[1]);
  const cid='c'+name;
  const cp=mk('clipPath',{id:cid},defs); mk('rect',{x:box[0],y:box[1],width:box[2]-box[0],height:box[3]-box[1]},cp);
  const pg=mk('g',{'clip-path':'url(#'+cid+')'},g);
  thinF.forEach(s=>{const p=mk('path',{d:smooth(grid.map((v,i)=>[X(v),Y(s[i])])),fill:'none',stroke:'#f5a623','stroke-width':1,opacity:0.3},pg);
    
    });
  thinH.forEach(s=>{const p=mk('path',{d:smooth(grid.map((v,i)=>[X(v),Y(s[i])])),fill:'none',stroke:'#3a3ae0','stroke-width':1,opacity:0.25},pg);
    
    });
  modes.forEach(v=>{const l=mk('line',{x1:X(v),y1:box[1],x2:X(v),y2:box[3],stroke:'#666','stroke-width':1.3,'stroke-dasharray':'6,4'},pg);
    
    });
  const pf=mk('path',{d:smooth(grid.map((v,i)=>[X(v),Y(field[i])])),fill:'none',stroke:'#f5a01a','stroke-width':2.6},pg);
  
  
  const ph=mk('path',{d:smooth(grid.map((v,i)=>[X(v),Y(hii[i])])),fill:'none',stroke:'#0b13d6','stroke-width':2.6},pg);
  
  
  const fr=mk('rect',{x:box[0],y:box[1],width:box[2]-box[0],height:box[3]-box[1],fill:'none',stroke:'#666'},g);
  
  
  xticks.forEach(v=>{mk('line',{x1:X(v),y1:box[3],x2:X(v),y2:box[3]+3,stroke:'#444'},g);
    const t=txt(X(v),box[3]+13,String(v),{'font-size':10,'text-anchor':'middle','font-family':FONT,fill:'#222'},g);
    
    });
  yticks.forEach(v=>{mk('line',{x1:box[0],y1:Y(v),x2:box[0]-3,y2:Y(v),stroke:'#444'},g);
    const t=txt(box[0]-5,Y(v)+3.5,v.toFixed(ydec),{'font-size':10,'text-anchor':'end','font-family':FONT,fill:'#222'},g);
    
    });
  const tt=mk('text',{x:(box[0]+box[2])/2,y:box[3]+26,'font-size':11.5,'text-anchor':'middle','font-family':FONT},g);
  title.forEach(p=>{const ts=mk('tspan',p[1]!==0?{'font-size':8,dy:p[1]}:{dy:p[2]||0},tt);ts.textContent=p[0];});
  
  
  if(legend){const lg=mk('g',{},g);
    
    
    mk('rect',{x:box[0]+4,y:box[1]+5,width:73,height:27,fill:'#fff',stroke:'#ccc',rx:2},lg);
    mk('line',{x1:box[0]+8,y1:box[1]+12,x2:box[0]+22,y2:box[1]+12,stroke:'#0b13d6','stroke-width':2.6},lg);
    mk('line',{x1:box[0]+8,y1:box[1]+25,x2:box[0]+22,y2:box[1]+25,stroke:'#f5a01a','stroke-width':2.6},lg);
    const a=txt(box[0]+26,box[1]+15.5,'HII regions',{'font-size':9.5,'font-family':FONT},lg);
    
    
    const b=txt(box[0]+26,box[1]+28.5,'field',{'font-size':9.5,'font-family':FONT},lg);
    
    }
}
fig3Panel([2652,547,2850,699],[4.74,10.43],[-0.0044,0.1066],[5,6,7,8,9,10],[0,0.02,0.04,0.06,0.08,0.10],2,ageGrid,ageHii,ageField,ageThinHii,ageThinField,ageModes,[['log(Age) [yr]',0]],'figure-3-age-pdf',false);
fig3Panel([2881,547,3079,699],[1.517,5.503],[-0.0039,0.0942],[2,3,4,5],[0,0.02,0.04,0.06,0.08],2,massGrid,massHii,massField,massThinHii,massThinField,massModes,[['log(M) [',0],['M',0,0],['⊙',3],[']',0,-3]],'figure-3-mass-pdf',false);
fig3Panel([3109,547,3307,699],[40,51],[-0.0275,0.669],[40,42,44,46,48,50],[0,0.1,0.2,0.3,0.4,0.5,0.6],1,qGrid,qHii,qField,qThinHii,qThinField,qModes,[['log Q(H',0],['exp',4],['0',-8],[') [s',0,4],['−1',-4],[']',0,4]],'figure-3-flux-pdf',true);

// ================= FIG 4 =================
(function(){
  const g=mk('g',{});
  
  
  const box=[3520,113,3739,326];
  const X=lin(2.332,6.017,box[0],box[2]), Y=lin(-0.046,1.0515,box[3],box[1]);
  const XL=lin(35,38,3553,3696);
  function steps(xf,starts,width,vals){let d='M'+xf(starts[0]).toFixed(1)+','+Y(0).toFixed(1);
    vals.forEach((v,i)=>{const a=xf(starts[i]),b=xf(starts[i]+width);d+=' L'+a.toFixed(1)+','+Y(v).toFixed(1)+' L'+b.toFixed(1)+','+Y(v).toFixed(1);});
    d+=' L'+xf(starts[vals.length-1]+width).toFixed(1)+','+Y(0).toFixed(1);return d;}
  const gmcStarts=gmcNorm.map((v,i)=>gmcHistStart+i*gmcBinWidth);
  const hiiStarts=hiiLFNorm.map((v,i)=>hiiLFStart+i*hiiLFWidth);
  const hl=mk('path',{d:steps(XL,hiiStarts,hiiLFWidth,hiiLFNorm),fill:'none',stroke:'#111','stroke-width':1.2,'stroke-dasharray':'6,2,1.5,2'},g);
  
  
  const gm=mk('path',{d:steps(X,gmcStarts,gmcBinWidth,gmcNorm),fill:'none',stroke:'#1a8a1a','stroke-width':1.3},g);
  
  
  const ys=mk('path',{d:steps(X,yscBinStart,yscBinWidth,yscNorm),fill:'none',stroke:'#1515e6','stroke-width':1.3},g);
  
  
  const fr=mk('rect',{x:box[0],y:box[1],width:box[2]-box[0],height:box[3]-box[1],fill:'none',stroke:'#666'},g);
  
  
  fig4XTicks.forEach(v=>{mk('line',{x1:X(v),y1:box[3],x2:X(v),y2:box[3]+3,stroke:'#444'},g);
    const t=txt(X(v),box[3]+11,v.toFixed(1),{'font-size':7.5,'text-anchor':'middle','font-family':FONT},g);
    
    });
  fig4YTicks.forEach(v=>{mk('line',{x1:box[0],y1:Y(v),x2:box[0]-3,y2:Y(v),stroke:'#444'},g);
    const t=txt(box[0]-5,Y(v)+2.7,v.toFixed(1),{'font-size':7.5,'text-anchor':'end','font-family':FONT},g);
    
    });
  fig4TopTicks.forEach(v=>{mk('line',{x1:XL(v),y1:box[1],x2:XL(v),y2:box[1]-3,stroke:'#444'},g);
    const t=txt(XL(v),box[1]-5,String(v),{'font-size':7.5,'text-anchor':'middle','font-family':FONT},g);
    
    });
  const xt=mk('text',{x:3629,y:349,'font-size':10,'text-anchor':'middle','font-family':FONT},g);
  [['log(M) [M',0],['⊙',3],[' ]',-3]].forEach(p=>{const ts=mk('tspan',p[1]?{'font-size':7,dy:p[1]}:{},xt);if(p[1]<0)ts.setAttribute('font-size',10);ts.textContent=p[0];});
  
  
  const tt=mk('text',{x:3629,y:98,'font-size':10,'text-anchor':'middle','font-family':FONT},g);
  [['log( L(Hα) ) [erg s',0],['−1',-4],[']',4]].forEach(p=>{const ts=mk('tspan',p[1]<0?{'font-size':7,dy:p[1]}:(p[1]?{dy:p[1]}:{}),tt);ts.textContent=p[0];});
  
  
  const lg=mk('g',{},g);
  
  
  mk('rect',{x:3660,y:117,width:74,height:39,fill:'#fff',stroke:'#ddd',rx:2},lg);
  mk('line',{x1:3664,y1:124,x2:3681,y2:124,stroke:'#1a8a1a','stroke-width':1.3},lg);
  mk('line',{x1:3664,y1:137,x2:3681,y2:137,stroke:'#1515e6','stroke-width':1.3},lg);
  mk('line',{x1:3664,y1:149,x2:3681,y2:149,stroke:'#111','stroke-width':1.2,'stroke-dasharray':'5,2,1.5,2'},lg);
  [['GMC mass',127],['YSC mass',140],['HII LF',152]].forEach(e=>{const t=txt(3687,e[1],e[0],{'font-size':7.5,'font-family':FONT},lg);
    
    });
})();
</script>
</body></html>
